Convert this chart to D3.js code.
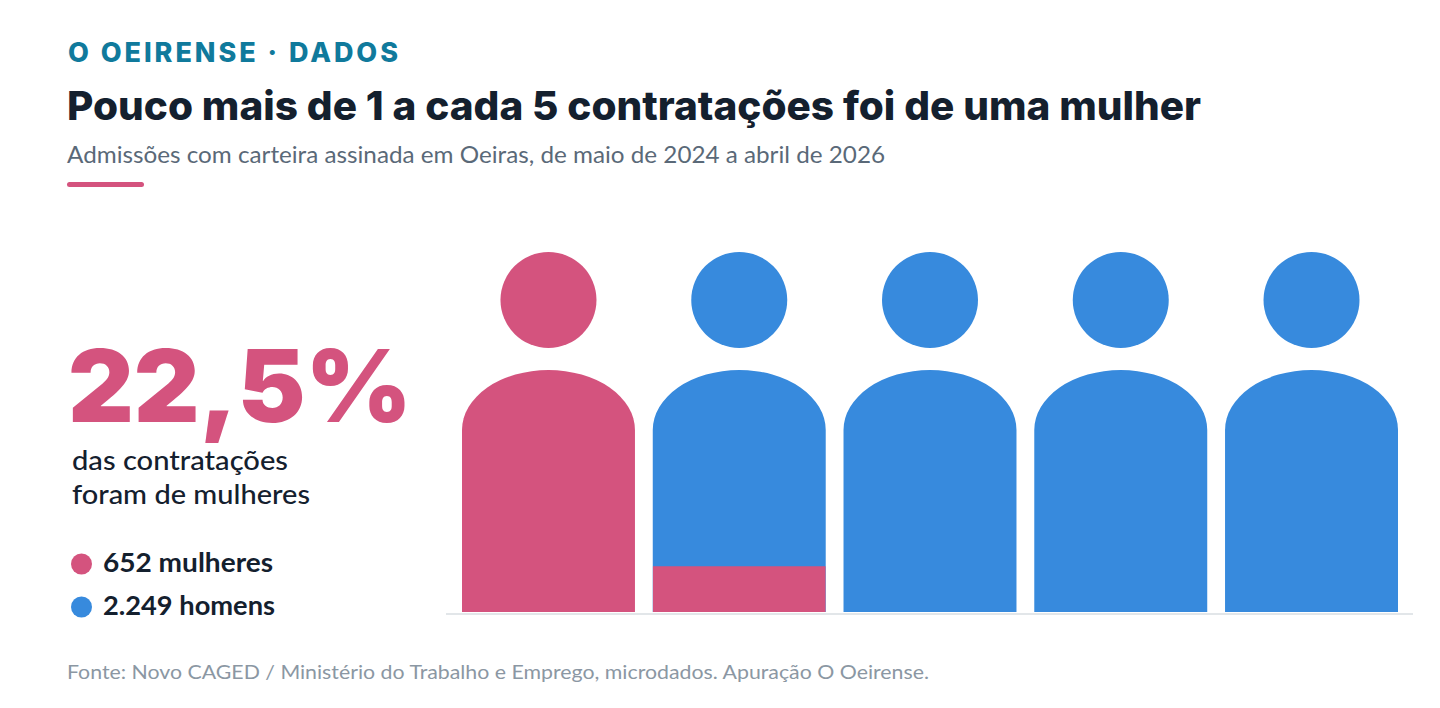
<!DOCTYPE html>
<html lang="pt-BR">
<head>
<meta charset="utf-8">
<title>Contratações em Oeiras por sexo</title>
<script src="https://cdn.jsdelivr.net/npm/d3@7/dist/d3.min.js"></script>
<style>
  html, body { margin: 0; background: #fff; }
  svg { display: block; font-family: Lato, "Noto Sans", sans-serif; }
  .forte { font-family: Inter, Lato, sans-serif; }
</style>
</head>
<body>
<svg id="chart" width="1440" height="708"></svg>
<script>
// Dados: admissões por sexo e participação feminina
const categories = ["mulheres", "homens"];
const counts = [652, 2249];
const countLabels = ["652", "2.249"];
const sharePercent = 22.5;
const shareLabel = "22,5%";
const peopleIndex = [0, 1, 2, 3, 4];

const colors = { mulheres: "#D4537E", homens: "#378ADD" };

const svg = d3.select("#chart");

// Textos com largura fixa, para manter o bloco alinhado
function label(text, x, y, size, weight, fill, width, adjust = "spacingAndGlyphs") {
  return svg.append("text")
    .attr("x", x).attr("y", y)
    .attr("font-size", size).attr("font-weight", weight)
    .attr("fill", fill)
    .attr("textLength", width)
    .attr("lengthAdjust", adjust)
    .text(text);
}

// Cabeçalho
label("O OEIRENSE · DADOS", 68, 62, 27, 800, "#107A9C", 330, "spacing").attr("class", "forte");
label("Pouco mais de 1 a cada 5 contratações foi de uma mulher", 67, 120, 40, 800, "#14202E", 1134).attr("class", "forte");
label("Admissões com carteira assinada em Oeiras, de maio de 2024 a abril de 2026", 67, 163, 22.5, 400, "#5A6978", 818);
svg.append("rect").attr("x", 67).attr("y", 182).attr("width", 77).attr("height", 5)
  .attr("rx", 2.5).attr("fill", colors.mulheres);

// Destaque à esquerda
label(shareLabel, 68, 422, 100, 900, colors.mulheres, 344).attr("class", "forte");
label("das contratações", 72, 470, 27, 500, "#14202E", 216);
label("foram de mulheres", 72, 503.5, 27, 500, "#14202E", 238);

// Legenda
const legendY = d3.scalePoint().domain(categories).range([564, 607]);
const legend = svg.selectAll("g.legend").data(categories).join("g").attr("class", "legend");
legend.append("circle")
  .attr("cx", 81.5).attr("cy", d => legendY(d)).attr("r", 10.5)
  .attr("fill", d => colors[d]);
legend.append("text")
  .attr("x", 103).attr("y", d => legendY(d) + 8)
  .attr("font-size", 26.5).attr("font-weight", 700).attr("fill", "#14202E")
  .attr("textLength", (d, i) => [170, 172][i])
  .attr("lengthAdjust", "spacingAndGlyphs")
  .text((d, i) => `${countLabels[i]} ${d}`);

// Fileira de cinco pessoas: cada uma vale um quinto do total
const x = d3.scaleBand().domain(peopleIndex).range([462, 1398]).paddingInner(0.0933);
const fillY = d3.scaleLinear().domain([0, 1]).range([612, 246]);
const personUnits = sharePercent / 100 * peopleIndex.length;
const filled = i => Math.max(0, Math.min(1, personUnits - i));

const headRadius = 48;
const headCy = 300;
const bodyTop = 370;
const shoulderRy = 60;
const baseY = fillY(0);

// Silhueta do tronco, com ombros elípticos
function bodyPath(i) {
  const l = x(i), w = x.bandwidth(), rx = w / 2;
  return `M${l},${baseY}V${bodyTop + shoulderRy}`
    + `A${rx},${shoulderRy} 0 0 1 ${l + rx},${bodyTop}`
    + `A${rx},${shoulderRy} 0 0 1 ${l + w},${bodyTop + shoulderRy}`
    + `V${baseY}Z`;
}

const defs = svg.append("defs");
defs.selectAll("clipPath").data(peopleIndex).join("clipPath")
  .attr("id", i => `pessoa-${i}`)
  .append("path").attr("d", bodyPath);

const people = svg.selectAll("g.person").data(peopleIndex).join("g").attr("class", "person");
const baseColor = i => filled(i) >= 1 ? colors.mulheres : colors.homens;

people.append("circle")
  .attr("cx", i => x(i) + x.bandwidth() / 2)
  .attr("cy", headCy).attr("r", headRadius)
  .attr("fill", baseColor);
people.append("path").attr("d", bodyPath).attr("fill", baseColor);

// Parte preenchida de uma pessoa incompleta
people.filter(i => filled(i) > 0 && filled(i) < 1)
  .append("rect")
  .attr("clip-path", i => `url(#pessoa-${i})`)
  .attr("x", i => x(i)).attr("width", x.bandwidth())
  .attr("y", i => fillY(filled(i)))
  .attr("height", i => baseY - fillY(filled(i)))
  .attr("fill", colors.mulheres);

// Linha de base
svg.append("rect").attr("x", 446).attr("y", 613).attr("width", 967).attr("height", 2).attr("fill", "#E2E6E9");

// Fonte
label("Fonte: Novo CAGED / Ministério do Trabalho e Emprego, microdados. Apuração O Oeirense.", 67, 679, 20, 400, "#8B97A3", 862);
</script>
</body>
</html>
